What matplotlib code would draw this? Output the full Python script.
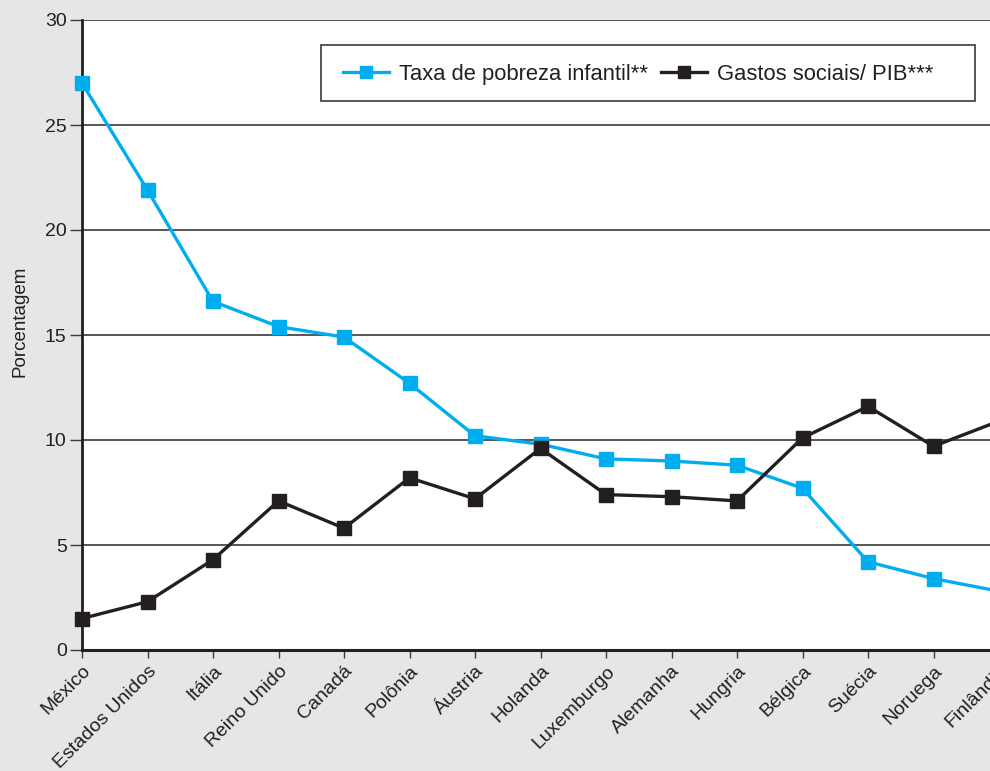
import matplotlib
matplotlib.use("Agg")
import matplotlib.pyplot as plt
from matplotlib.patches import Rectangle

paises = ["México", "Estados Unidos", "Itália", "Reino Unido", "Canadá", "Polônia",
          "Áustria", "Holanda", "Luxemburgo", "Alemanha", "Hungria", "Bélgica",
          "Suécia", "Noruega", "Finlândia"]
pobreza_infantil = [27.0, 21.9, 16.6, 15.4, 14.9, 12.7, 10.2, 9.8, 9.1, 9.0, 8.8, 7.7, 4.2, 3.4, 2.8]
gastos_sociais = [1.5, 2.3, 4.3, 7.1, 5.8, 8.2, 7.2, 9.6, 7.4, 7.3, 7.1, 10.1, 11.6, 9.7, 10.9]
y_ticks = [0, 5, 10, 15, 20, 25, 30]

FAM = ['Liberation Sans', 'DejaVu Sans']
plt.rcParams['font.family'] = FAM

W, H = 990, 771
fig = plt.figure(figsize=(W / 100, H / 100), dpi=100)
fig.patch.set_facecolor('#e6e6e8')

step = 65.5
x0 = 82
xmax = 14.5
left = x0 / W
bottom = (H - 650) / H
height = 630 / H
width = xmax * step / W
ax = fig.add_axes([left, bottom, width, height])
ax.set_facecolor('white')

xs = list(range(len(paises)))
ax.plot(xs, pobreza_infantil, color='#00aeef', lw=2.4, marker='s', ms=10,
        label='Taxa de pobreza infantil**', clip_on=False, zorder=3)
ax.plot(xs, gastos_sociais, color='#231f20', lw=2.4, marker='s', ms=10,
        label='Gastos sociais/ PIB***', clip_on=False, zorder=3)

ax.set_xlim(0, xmax)
ax.set_ylim(0, 30)
ax.set_yticks(y_ticks)
ax.set_yticklabels([str(v) for v in y_ticks], fontsize=14, family=FAM)
ax.set_xticks(xs)
ax.set_xticklabels(paises, rotation=45, ha='right', rotation_mode='anchor',
                   fontsize=14, family=FAM)

for v in y_ticks[1:]:
    ax.axhline(v, color='#3a3a3a', lw=1.2, zorder=1)

for s in ['right', 'top']:
    ax.spines[s].set_visible(False)
ax.spines['left'].set_linewidth(2)
ax.spines['left'].set_color('#231f20')
ax.spines['bottom'].set_linewidth(2.2)
ax.spines['bottom'].set_color('#231f20')
ax.tick_params(axis='y', length=9, width=1, color='#3a3a3a', pad=2, labelcolor='#231f20')
ax.tick_params(axis='x', length=6, width=1, color='#3a3a3a', pad=3, labelcolor='#231f20')

fig.text(20 / W, 1 - 321 / H, 'Porcentagem', rotation=90, ha='center', va='center',
         fontsize=13.5, color='#231f20', family=FAM)

fig.patches.append(Rectangle((321 / W, 1 - 101 / H), (975 - 321) / W, 56 / H,
                             transform=fig.transFigure, facecolor='white',
                             edgecolor='#3a3a3a', lw=1.2, zorder=5))

leg = fig.legend(loc='center left', bbox_to_anchor=(343 / W, 1 - 74.5 / H), ncol=2,
                 prop={'family': FAM, 'size': 15.8}, frameon=False,
                 handlelength=2.1, markerscale=0.85,
                 columnspacing=0.6, handletextpad=0.45, borderpad=0, borderaxespad=0)
leg.set_zorder(6)
for t in leg.get_texts():
    t.set_color('#231f20')

fig.savefig('out.png', dpi=100, facecolor=fig.get_facecolor())
